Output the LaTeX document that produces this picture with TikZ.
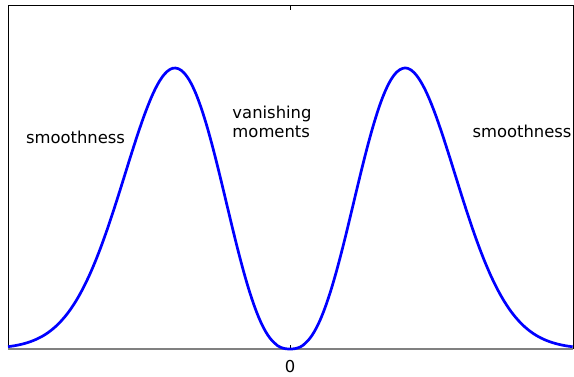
\documentclass[tikz,border=0pt]{standalone}
\usepackage{fontspec}
\setmainfont{DejaVu Sans}
\usetikzlibrary{positioning, calc}
\usepackage{xcolor}

\begin{document}
\begin{tikzpicture}[x=1pt, y=1pt,
        lbl/.style={font=\fontsize{16.4}{19}\selectfont, inner sep=0pt, align=left},
        curve/.style={draw=blue, line width=2.7pt, line join=round},
    ]
        \useasboundingbox (0,0) rectangle (574,376);
        % frame
        \draw[black, line width=1pt] (8,27) -- (8,370) -- (573,370) -- (573,27);
        \draw[black!50, line width=1.2pt] (8,27) -- (573,27);
        \draw[black, line width=0.8pt] (290,370) -- (290,366);
        \draw[black, line width=0.8pt] (290,27) -- (290,31);
        % curve
        \draw[curve] plot[domain=-2.452:2.46, samples=200, smooth]
            ({290+115*\x}, {27+281*exp(2.5*(ln(abs(\x)) + (1-abs(\x)^2.2)/2.2))});
        % labels
        \node[lbl] (zero)  at (290,9)   {0};
        \node[lbl] (smoothL) at (75.5,239) {smoothness};
        \node[lbl] (vanish) at (272,254) {vanishing\\moments};
        \node[lbl] (smoothR) at (522,245) {smoothness};
    \end{tikzpicture}
\end{document}
